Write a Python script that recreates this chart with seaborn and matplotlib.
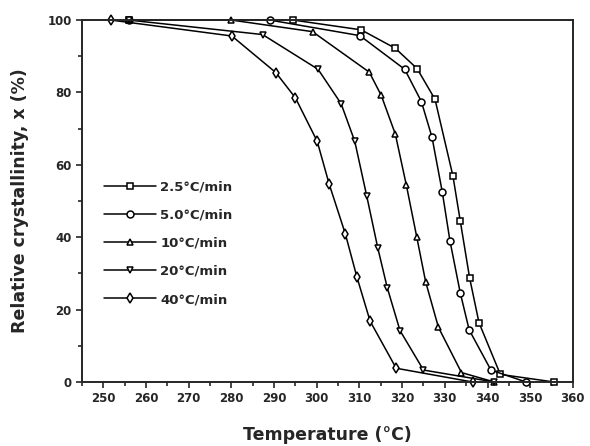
import numpy as np
import pandas as pd
import matplotlib
matplotlib.use("Agg")
import matplotlib.pyplot as plt
from matplotlib.ticker import MultipleLocator
import seaborn as sns

# -----------------------------
# Data
# -----------------------------
rates = ["2.5°C/min", "5.0°C/min", "10°C/min", "20°C/min", "40°C/min"]

temp_25 = [256, 294.5, 310.4, 318.4, 323.5, 327.7, 331.9, 333.6, 335.8, 338.0, 343.0, 355.6]
cryst_25 = [100, 100, 97.3, 92.2, 86.6, 78.1, 56.9, 44.6, 28.8, 16.4, 2.1, 0]

temp_50 = [256, 289.0, 310.1, 320.6, 324.5, 327.0, 329.4, 331.2, 333.6, 335.7, 340.8, 349.0]
cryst_50 = [100, 100, 95.7, 86.4, 77.5, 67.6, 52.5, 39.0, 24.7, 14.4, 3.3, 0]

temp_10 = [256, 280.0, 299.0, 312.3, 315.1, 318.4, 321.0, 323.4, 325.5, 328.5, 333.9, 341.6]
cryst_10 = [100, 100, 96.8, 85.6, 79.2, 68.5, 54.3, 40.2, 27.7, 15.1, 2.6, 0]

temp_20 = [256, 287.3, 300.3, 305.7, 308.9, 311.7, 314.3, 316.5, 319.5, 325.0, 341.6]
cryst_20 = [100, 96.0, 86.4, 76.9, 66.5, 51.4, 37.0, 26.1, 14.2, 3.3, 0]

temp_40 = [251.8, 280.1, 290.4, 295.0, 300.1, 302.9, 306.7, 309.4, 312.5, 318.6, 336.5]
cryst_40 = [100, 95.6, 85.5, 78.5, 66.5, 54.7, 40.9, 29.0, 16.8, 3.8, 0]

series = {
    rates[0]: (temp_25, cryst_25),
    rates[1]: (temp_50, cryst_50),
    rates[2]: (temp_10, cryst_10),
    rates[3]: (temp_20, cryst_20),
    rates[4]: (temp_40, cryst_40),
}

rows = []
for rate, (t, c) in series.items():
    for ti, ci in zip(t, c):
        rows.append({"Temperature": ti, "Crystallinity": ci, "Rate": rate})
df = pd.DataFrame(rows)

# -----------------------------
# Plot
# -----------------------------
sns.set_style("ticks")
plt.rcParams["font.family"] = ["DejaVu Sans"]
plt.rcParams["font.weight"] = "bold"

fig = plt.figure(figsize=(5.9, 4.46), dpi=100)
ax = fig.add_axes([0.139, 0.1435, 0.832, 0.8115])

markers = {rates[0]: "s", rates[1]: "o", rates[2]: "^", rates[3]: "v", rates[4]: "d"}
palette = {r: "black" for r in rates}

sns.lineplot(
    data=df, x="Temperature", y="Crystallinity",
    hue="Rate", style="Rate", hue_order=rates, style_order=rates,
    markers=markers, dashes=False, palette=palette, sort=False,
    markersize=5, markerfacecolor="white", markeredgecolor="black",
    markeredgewidth=1.1, linewidth=1.1, ax=ax, clip_on=False, legend=True,
)

ax.set_xlim(245, 360)
ax.set_ylim(0, 100)
ax.xaxis.set_major_locator(MultipleLocator(10))
ax.xaxis.set_minor_locator(MultipleLocator(5))
ax.yaxis.set_major_locator(MultipleLocator(20))
ax.yaxis.set_minor_locator(MultipleLocator(10))
ax.tick_params(which="both", direction="out", top=False, right=False,
               labelsize=8.5, width=1.2)
ax.tick_params(which="major", length=4)
ax.tick_params(which="minor", length=3)
for lbl in ax.get_xticklabels() + ax.get_yticklabels():
    lbl.set_fontweight("bold")
for sp in ax.spines.values():
    sp.set_linewidth(1.4)
    sp.set_visible(True)

ax.set_xlabel("Temperature (°C)", fontsize=12.5, fontweight="bold", labelpad=15)
ax.set_ylabel("Relative crystallinity, x (%)", fontsize=12.5, fontweight="bold", labelpad=13)

leg = ax.legend(loc="upper left", bbox_to_anchor=(0.02, 0.59), frameon=False,
                handlelength=4.0, labelspacing=1.15, handletextpad=0.3,
                prop={"size": 9.5, "weight": "bold"})
for h in leg.legend_handles:
    h.set_markerfacecolor("white")
    h.set_markeredgecolor("black")
    h.set_color("black")

fig.savefig("out.png", dpi=100)
